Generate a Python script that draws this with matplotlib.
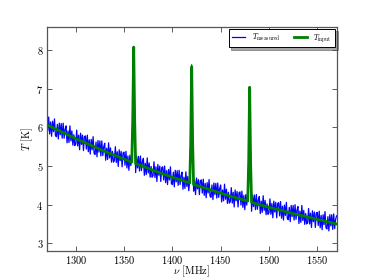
import numpy as np
import matplotlib
matplotlib.use("Agg")
import matplotlib.pyplot as plt

plt.rcParams['font.family'] = 'serif'
plt.rcParams['font.serif'] = ['cmr10', 'DejaVu Serif']
plt.rcParams['mathtext.fontset'] = 'cm'
plt.rcParams['axes.formatter.use_mathtext'] = True

# measured spectrum, 1 MHz channels from 1270 to 1570 MHz
freq_start = 1270
t_measured = [
    6.25, 5.91, 6.27, 5.83, 6.14, 5.77, 6.16, 5.89, 6.22, 5.79,
    5.76, 6.08, 5.70, 6.11, 5.81, 6.10, 5.72, 6.11, 5.72, 5.95,
    6.04, 5.60, 5.91, 5.61, 6.04, 5.65, 5.91, 5.54, 5.81, 5.53,
    5.57, 5.93, 5.52, 5.80, 5.42, 5.85, 5.56, 5.80, 5.40, 5.76,
    5.78, 5.44, 5.80, 5.37, 5.68, 5.31, 5.69, 5.42, 5.76, 5.33,
    5.30, 5.62, 5.24, 5.66, 5.36, 5.65, 5.26, 5.65, 5.27, 5.50,
    5.59, 5.15, 5.46, 5.17, 5.60, 5.21, 5.47, 5.10, 5.38, 5.10,
    5.14, 5.50, 5.09, 5.37, 4.99, 5.42, 5.14, 5.38, 4.98, 5.34,
    5.36, 5.02, 5.38, 4.95, 5.26, 4.89, 5.28, 5.01, 5.35, 6.15,
    8.06, 6.10, 4.83, 5.25, 4.95, 5.25, 4.87, 5.26, 4.88, 5.11,
    5.20, 4.76, 5.07, 4.78, 5.21, 4.82, 5.08, 4.71, 4.99, 4.71,
    4.75, 5.11, 4.70, 4.98, 4.60, 5.04, 4.76, 5.00, 4.60, 4.96,
    4.98, 4.64, 5.00, 4.57, 4.88, 4.52, 4.91, 4.64, 4.98, 4.55,
    4.52, 4.84, 4.46, 4.89, 4.59, 4.88, 4.50, 4.89, 4.52, 4.75,
    4.84, 4.40, 4.71, 4.42, 4.85, 4.47, 4.73, 4.36, 4.64, 5.60,
    7.62, 5.55, 4.35, 4.64, 4.26, 4.69, 4.41, 4.65, 4.26, 4.62,
    4.64, 4.30, 4.66, 4.24, 4.55, 4.18, 4.57, 4.30, 4.65, 4.22,
    4.19, 4.51, 4.13, 4.56, 4.26, 4.55, 4.17, 4.56, 4.19, 4.42,
    4.51, 4.07, 4.38, 4.10, 4.53, 4.14, 4.40, 4.03, 4.32, 4.04,
    4.08, 4.44, 4.04, 4.32, 3.94, 4.38, 4.10, 4.34, 3.94, 4.31,
    4.33, 3.99, 4.35, 3.93, 4.24, 3.87, 4.26, 3.99, 4.34, 5.10,
    7.03, 5.05, 3.83, 4.25, 3.95, 4.25, 3.87, 4.26, 3.88, 4.12,
    4.21, 3.77, 4.09, 3.80, 4.23, 3.85, 4.11, 3.74, 4.02, 3.75,
    3.79, 4.15, 3.75, 4.03, 3.66, 4.09, 3.81, 4.06, 3.66, 4.03,
    4.05, 3.71, 4.08, 3.65, 3.96, 3.60, 3.99, 3.72, 4.06, 3.64,
    3.61, 3.93, 3.56, 3.98, 3.69, 3.98, 3.60, 4.00, 3.62, 3.86,
    3.95, 3.51, 3.83, 3.54, 3.98, 3.59, 3.85, 3.49, 3.77, 3.50,
    3.54, 3.90, 3.50, 3.78, 3.41, 3.84, 3.56, 3.81, 3.41, 3.78,
    3.80, 3.46, 3.83, 3.40, 3.72, 3.35, 3.74, 3.48, 3.82, 3.40,
    3.37, 3.69, 3.32, 3.74, 3.45, 3.74, 3.36, 3.76, 3.38, 3.62,
    3.71,
]
freq_measured = np.arange(freq_start, freq_start + len(t_measured))

# input model
freq_input = [1270, 1280, 1290, 1300, 1310, 1320, 1330, 1340, 1350,
              1358, 1359, 1360, 1361, 1362,
              1370, 1380, 1390, 1400, 1410,
              1418, 1419, 1420, 1421, 1422,
              1430, 1440, 1450, 1460, 1470,
              1478, 1479, 1480, 1481, 1482,
              1490, 1500, 1510, 1520, 1530, 1540, 1550, 1560, 1570]
t_input = [6.07, 5.95, 5.83, 5.71, 5.60, 5.49, 5.38, 5.28, 5.18,
           5.10, 6.20, 8.08, 6.20, 5.06,
           4.99, 4.89, 4.80, 4.71, 4.63,
           4.56, 5.60, 7.57, 5.60, 4.52,
           4.46, 4.38, 4.30, 4.22, 4.15,
           4.09, 5.10, 7.04, 5.10, 4.06,
           4.00, 3.93, 3.87, 3.80, 3.74, 3.68, 3.62, 3.56, 3.50]

x_ticks = [1300, 1350, 1400, 1450, 1500, 1550]
y_ticks = [3, 4, 5, 6, 7, 8]

fig = plt.figure(figsize=(3.74, 2.80), dpi=100)
ax = fig.add_axes([0.125, 0.1036, 0.775, 0.8])

ax.plot(freq_measured, t_measured, color='b', lw=0.9, label=r'$T_{\rm measured}$')
ax.plot(freq_input, t_input, color='g', lw=2.0, label=r'$T_{\rm input}$')

ax.set_xlim(1270, 1570)
ax.set_ylim(2.8, 8.6)
ax.set_xticks(x_ticks)
ax.set_yticks(y_ticks)
ax.tick_params(direction='in', top=True, right=True, labelsize=7.5,
               length=3.5, width=0.6, color='#444444', pad=2.5)
for s in ax.spines.values():
    s.set_color('#555555')
    s.set_linewidth(0.9)

ax.set_xlabel(r'$\nu$ [MHz]', fontsize=7.5)
ax.xaxis.set_label_coords(0.5, -0.058)
ax.set_ylabel(r'$T$ [K]', fontsize=7.5, labelpad=1)

leg = ax.legend(loc='upper right', ncol=2, fontsize=5.5, shadow=True,
                fancybox=False, framealpha=1, borderaxespad=0.2,
                handlelength=1.8, columnspacing=1.8, borderpad=0.4)
leg.get_frame().set_edgecolor('black')
leg.get_frame().set_linewidth(0.7)

fig.savefig('out.png', dpi=100)
